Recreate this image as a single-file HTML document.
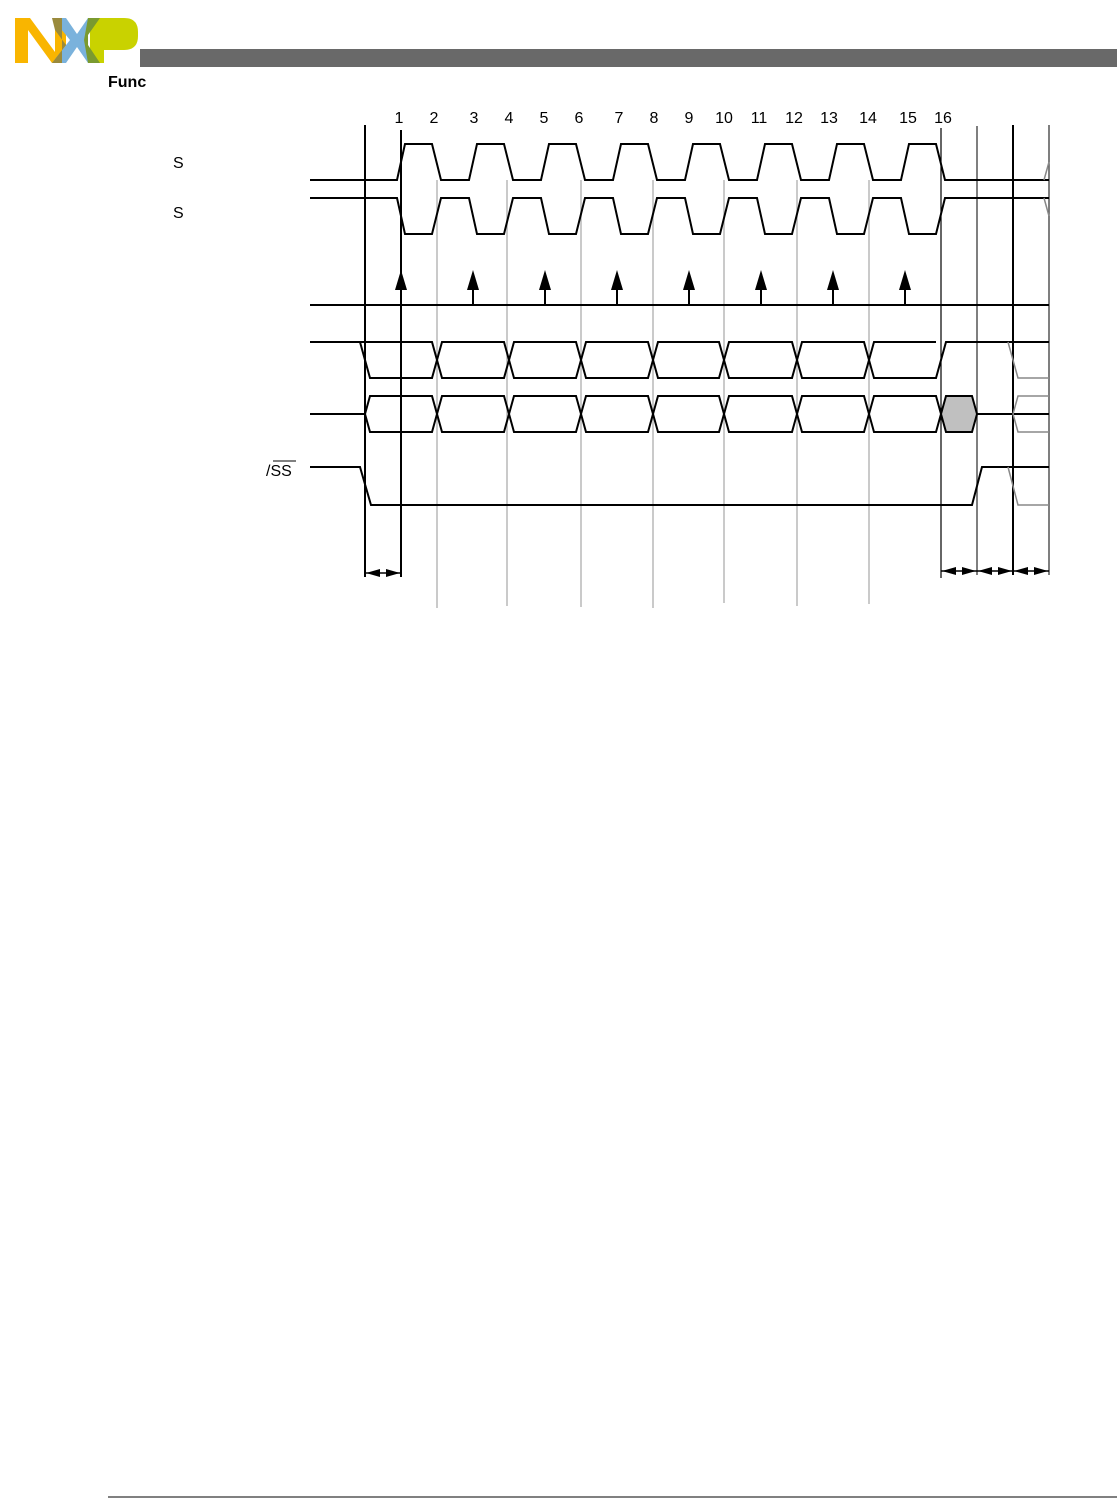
<!DOCTYPE html>
<html><head><meta charset="utf-8"><style>
html,body{margin:0;padding:0;background:#fff;}
svg{display:block;}
text{font-family:"Liberation Sans",Arial,sans-serif;}
</style></head><body>
<svg width="1117" height="1498" viewBox="0 0 1117 1498" xmlns="http://www.w3.org/2000/svg">
<!-- logo -->
<polygon points="15,18 30,18 55,52 55,18 66,18 66,63 52,63 28,30 28,63 15,63" fill="#f9b500"/>
<polygon points="52,18 66,18 77,34 88,18 100,18 84,40 100,63 88,63 77,47 66,63 52,63 70,40" fill="#7ab2dc"/>
<polygon points="52,18 62,18 62,63 52,63 66,45 55,30" fill="#9a8a3c"/>
<path d="M90,18 H124 Q138,18 138,32 V36 Q138,50 124,50 H104 V63 H90 Z" fill="#c9d200"/>
<polygon points="88,18 100,18 88,35 88,45 100,63 88,63 84,40" fill="#7a9a30"/>
<rect x="140" y="49" width="977" height="18" fill="#696969"/>
<text x="108" y="87" font-size="16" font-weight="bold">Func</text>
<rect x="100" y="67" width="60" height="9" fill="#fff"/>
<!-- labels -->
<g font-size="16">
<text x="173" y="168">S</text>
<text x="173" y="218">S</text>
<text x="266" y="476">/SS</text>
</g>
<line x1="273" y1="461" x2="296" y2="461" stroke="#000" stroke-width="1"/>
<g font-size="16" text-anchor="middle">
<text x="399" y="123">1</text><text x="434" y="123">2</text><text x="474" y="123">3</text><text x="509" y="123">4</text>
<text x="544" y="123">5</text><text x="579" y="123">6</text><text x="619" y="123">7</text><text x="654" y="123">8</text>
<text x="689" y="123">9</text><text x="724" y="123">10</text><text x="759" y="123">11</text><text x="794" y="123">12</text>
<text x="829" y="123">13</text><text x="868" y="123">14</text><text x="908" y="123">15</text><text x="943" y="123">16</text>
</g>
<!-- gray grid lines -->
<g stroke="#b8b8b8" stroke-width="1.5">
<line x1="437" y1="180" x2="437" y2="608"/><line x1="507" y1="180" x2="507" y2="606"/>
<line x1="581" y1="180" x2="581" y2="607"/><line x1="653" y1="180" x2="653" y2="608"/>
<line x1="724" y1="180" x2="724" y2="603"/><line x1="797" y1="180" x2="797" y2="606"/>
<line x1="869" y1="180" x2="869" y2="604"/>
</g>
<g stroke="#555" stroke-width="1.5">
<line x1="977" y1="126" x2="977" y2="575"/><line x1="1049" y1="125" x2="1049" y2="575"/>
</g>
<g stroke="#000" stroke-width="2">
<line x1="365" y1="125" x2="365" y2="577"/><line x1="401" y1="130" x2="401" y2="577"/>
<line x1="1013" y1="125" x2="1013" y2="575"/>
</g>
<line x1="941" y1="128" x2="941" y2="578" stroke="#000" stroke-width="1.2"/>
<!-- traces -->
<g fill="none" stroke="#000" stroke-width="2" stroke-linejoin="miter">
<path d="M310,180 H397 L405,144 H432 L441,180 H469 L477,144 H504 L513,180 H541 L549,144 H576 L585,180 H613 L621,144 H648 L657,180 H685 L693,144 H720 L729,180 H757 L765,144 H792 L801,180 H829 L837,144 H864 L873,180 H901 L909,144 H936 L945,180 H1049"/>
<path d="M310,198 H397 L405,234 H432 L441,198 H469 L477,234 H504 L513,198 H541 L549,234 H576 L585,198 H613 L621,234 H648 L657,198 H685 L693,234 H720 L729,198 H757 L765,234 H792 L801,198 H829 L837,234 H864 L873,198 H901 L909,234 H936 L945,198 H1049"/>
<path d="M310,305 H1049"/>
<path d="M473,305 V288 M545,305 V288 M617,305 V288 M689,305 V288 M761,305 V288 M833,305 V288 M905,305 V288"/>
<path d="M310,342 H432 L442,378 H504 L514,342 H576 L586,378 H648 L658,342 H719 L729,378 H792 L802,342 H864 L874,378 H936 L946,342 H1049"/>
<path d="M360,342 L370,378 H432 L442,342 H504 L514,378 H576 L586,342 H648 L658,378 H719 L729,342 H792 L802,378 H864 L874,342 H936"/>
<path d="M310,414 H365 L370,396 H432 L442,432 H504 L514,396 H576 L586,432 H648 L658,396 H719 L729,432 H792 L802,396 H864 L874,432 H936 L941,414"/>
<path d="M365,414 L370,432 H432 L442,396 H504 L514,432 H576 L586,396 H648 L658,432 H719 L729,396 H792 L802,432 H864 L874,396 H936 L941,414"/>
<path d="M977,414 H1049"/>
<path d="M310,467 H360 L371,505 H972 L982,467 H1049"/>
</g>
<polygon points="941,414 946,396 972,396 977,414 972,432 946,432" fill="#c0c0c0" stroke="#000" stroke-width="2"/>
<g fill="none" stroke="#888" stroke-width="1.5">
<path d="M1008,342 L1018,378 H1049"/>
<path d="M1049,396 H1018 L1013,414 L1018,432 H1049"/>
<path d="M1008,467 L1018,505 H1049"/>
<path d="M1044,180 L1049,162 M1044,198 L1049,216"/>
</g>
<!-- arrowheads -->
<g fill="#000">
<polygon points="401,270 395,290 407,290"/>
<polygon points="473,270 467,290 479,290"/><polygon points="545,270 539,290 551,290"/>
<polygon points="617,270 611,290 623,290"/><polygon points="689,270 683,290 695,290"/>
<polygon points="761,270 755,290 767,290"/><polygon points="833,270 827,290 839,290"/>
<polygon points="905,270 899,290 911,290"/>
</g>
<!-- dimension arrows -->
<g stroke="#000" stroke-width="1.5">
<line x1="365" y1="573" x2="401" y2="573"/><line x1="941" y1="571" x2="977" y2="571"/>
<line x1="977" y1="571" x2="1013" y2="571"/><line x1="1013" y1="571" x2="1049" y2="571"/>
</g>
<g fill="#000">
<polygon points="366,573 380,569 380,577"/><polygon points="400,573 386,569 386,577"/>
<polygon points="942,571 956,567 956,575"/><polygon points="976,571 962,567 962,575"/>
<polygon points="978,571 992,567 992,575"/><polygon points="1012,571 998,567 998,575"/>
<polygon points="1014,571 1028,567 1028,575"/><polygon points="1048,571 1034,567 1034,575"/>
</g>
<line x1="108" y1="1497" x2="1117" y2="1497" stroke="#000" stroke-width="1"/>
</svg>
</body></html>
